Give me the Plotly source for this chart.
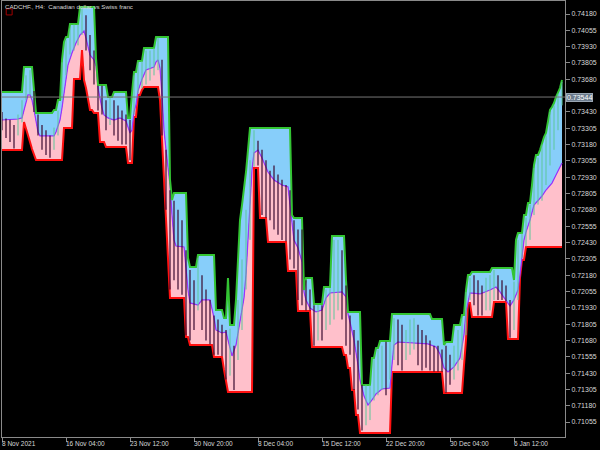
import plotly.graph_objects as go

# ---------------- data (CADCHF H4) ----------------
# Donchian-type channel, given as (price, number_of_bars) runs
upper_steps = [
    (0.73583, 11), (0.73774, 5), (0.73598, 1), (0.73422, 9), (0.73445, 2), (0.73521, 2),
    (0.73828, 1), (0.73966, 1), (0.74004, 2), (0.74103, 5), (0.74234, 8), (0.73843, 1),
    (0.73636, 5), (0.73544, 3), (0.73583, 7), (0.73384, 2), (0.73575, 1), (0.73736, 2),
    (0.73820, 3), (0.73920, 6), (0.74004, 7), (0.72909, 1), (0.72755, 1), (0.72809, 7),
    (0.72311, 1), (0.72243, 4), (0.72334, 9), (0.71913, 4), (0.71852, 2), (0.72158, 1),
    (0.71798, 3), (0.71990, 1), (0.72296, 1), (0.72602, 1), (0.72717, 1), (0.72832, 1),
    (0.72970, 1), (0.73138, 1), (0.73307, 21), (0.72641, 1), (0.72618, 5), (0.72066, 1),
    (0.72158, 4), (0.71959, 5), (0.72089, 4), (0.72480, 7), (0.72143, 1), (0.71898, 7),
    (0.71339, 5), (0.71546, 2), (0.71622, 2), (0.71676, 6), (0.71882, 20), (0.71844, 6),
    (0.71645, 1), (0.71668, 4), (0.71798, 4), (0.71875, 2), (0.72066, 1), (0.72181, 2),
    (0.72204, 10), (0.72235, 11), (0.72143, 1), (0.72449, 1), (0.72503, 3), (0.72641, 2),
    (0.72733, 2), (0.72870, 1), (0.73024, 1), (0.73100, 2), (0.73138, 1), (0.73192, 1),
    (0.73238, 1), (0.73269, 1), (0.73368, 1), (0.73445, 1), (0.73468, 1), (0.73498, 1),
    (0.73544, 1), (0.73583, 1), (0.73613, 1), (0.73674, 1),
]
lower_steps = [
    (0.73138, 11), (0.73353, 1), (0.73307, 1), (0.73253, 1), (0.73200, 1), (0.73146, 1),
    (0.73100, 1), (0.73062, 14), (0.73307, 5), (0.73682, 4), (0.73904, 1), (0.73674, 1),
    (0.73613, 1), (0.73521, 1), (0.73445, 2), (0.73422, 3), (0.73200, 3), (0.73161, 11),
    (0.73039, 3), (0.73391, 2), (0.73560, 2), (0.73598, 1), (0.73621, 8), (0.73521, 1),
    (0.73215, 1), (0.72947, 1), (0.72641, 1), (0.72296, 1), (0.72005, 8), (0.71706, 2),
    (0.71645, 12), (0.71553, 5), (0.71454, 1), (0.71377, 1), (0.71285, 13), (0.73001, 3),
    (0.72618, 4), (0.72434, 10), (0.72212, 5), (0.71905, 7), (0.71630, 16), (0.71569, 2),
    (0.71469, 2), (0.71300, 2), (0.71109, 2), (0.70971, 16), (0.71438, 26), (0.71278, 10),
    (0.71492, 1), (0.71683, 1), (0.71967, 2), (0.71859, 11), (0.71974, 7), (0.71691, 6),
    (0.72158, 1), (0.72296, 2), (0.72396, 19),
]
# middle (smoothed) line: bar index -> price
middle_idx = [0, 8, 10, 11, 12, 13, 14, 15, 16, 17, 18, 19, 26, 27, 28, 29, 30, 31, 32, 33,
              35, 37, 39, 41, 42, 43, 44, 46, 47, 48, 49, 50, 51, 53, 56, 59, 62, 63, 64, 65,
              66, 67, 68, 70, 72, 76, 77, 78, 79, 80, 81, 82, 83, 84, 85, 86, 87, 91, 92, 93,
              94, 98, 100, 104, 106, 107, 110, 112, 113, 115, 117, 119, 121, 122, 123, 124, 125, 126, 128, 130,
              133, 136, 140, 143, 144, 145, 146, 148, 150, 151, 152, 154, 157, 160, 162, 164, 170, 172, 173, 174,
              176, 178, 179, 181, 183, 185, 187, 190, 194, 195, 196, 198, 213, 217, 219, 221, 223, 226, 229, 231,
              232, 234, 239, 244, 247, 249, 252, 254, 256, 258, 259, 260, 261, 262, 264, 266, 270, 272, 275, 277,
              279, 280]
middle_val = [0.73368, 0.73376, 0.73384, 0.73445, 0.73521, 0.73560, 0.73560, 0.73521, 0.73445, 0.73353,
              0.73276, 0.73246, 0.73246, 0.73276, 0.73315, 0.73368, 0.73460, 0.73583, 0.73705, 0.73789,
              0.73881, 0.73958, 0.74019, 0.74050, 0.73996, 0.73927, 0.73866, 0.73828, 0.73782, 0.73613,
              0.73521, 0.73460, 0.73407, 0.73384, 0.73368, 0.73384, 0.73361, 0.73322, 0.73269, 0.73292,
              0.73430, 0.73483, 0.73590, 0.73680, 0.73751, 0.73774, 0.73812, 0.73828, 0.73766, 0.73560,
              0.73292, 0.73138, 0.73024, 0.72870, 0.72641, 0.72449, 0.72403, 0.72396, 0.72235, 0.72066,
              0.71967, 0.71951, 0.71990, 0.71990, 0.71852, 0.71760, 0.71737, 0.71745, 0.71683, 0.71561,
              0.71645, 0.71836, 0.72005, 0.72181, 0.72411, 0.72717, 0.72985, 0.73116, 0.73138, 0.73077,
              0.72970, 0.72909, 0.72870, 0.72855, 0.72717, 0.72564, 0.72449, 0.72388, 0.72281, 0.72051,
              0.71990, 0.71928, 0.71898, 0.71913, 0.72005, 0.72043, 0.72051, 0.72013, 0.71882, 0.71821,
              0.71683, 0.71492, 0.71377, 0.71254, 0.71185, 0.71224, 0.71270, 0.71308, 0.71315, 0.71492,
              0.71645, 0.71668, 0.71653, 0.71630, 0.71576, 0.71469, 0.71438, 0.71477, 0.71546, 0.71722,
              0.71898, 0.72043, 0.72036, 0.72066, 0.72089, 0.72051, 0.71990, 0.71944, 0.71990, 0.72066,
              0.72181, 0.72334, 0.72449, 0.72510, 0.72602, 0.72717, 0.72786, 0.72832, 0.72885, 0.72947,
              0.73008, 0.73039]
# price bars (every other bar): high / low
bar_idx = list(range(0, 281, 2))
bar_high = [0.7343, 0.7338, 0.7337, 0.7333, 0.7341, 0.7352, 0.7371, 0.7375, 0.7359, 0.7341,
            0.7333, 0.7329, 0.7325, 0.7331, 0.7344, 0.7381, 0.7398, 0.7407, 0.7410, 0.7410,
            0.7423, 0.7417, 0.7402, 0.7390, 0.7363, 0.7363, 0.7352, 0.7354, 0.7352, 0.7348,
            0.7344, 0.7341, 0.7337, 0.7371, 0.7381, 0.7382, 0.7390, 0.7390, 0.7392, 0.7400,
            0.7383, 0.7314, 0.7283, 0.7275, 0.7268, 0.7260, 0.7237, 0.7222, 0.7214, 0.7231,
            0.7218, 0.7207, 0.7199, 0.7187, 0.7184, 0.7180, 0.7176, 0.7177, 0.7164, 0.7199,
            0.7230, 0.7268, 0.7306, 0.7329, 0.7321, 0.7314, 0.7306, 0.7298, 0.7302, 0.7295,
            0.7291, 0.7287, 0.7283, 0.7260, 0.7253, 0.7253, 0.7214, 0.7207, 0.7195, 0.7195,
            0.7195, 0.7207, 0.7208, 0.7245, 0.7245, 0.7237, 0.7210, 0.7187, 0.7176, 0.7168,
            0.7134, 0.7134, 0.7134, 0.7154, 0.7161, 0.7164, 0.7167, 0.7167, 0.7185, 0.7184,
            0.7180, 0.7176, 0.7184, 0.7185, 0.7180, 0.7176, 0.7172, 0.7168, 0.7164, 0.7164,
            0.7161, 0.7164, 0.7157, 0.7164, 0.7176, 0.7185, 0.7205, 0.7216, 0.7218, 0.7214,
            0.7210, 0.7216, 0.7218, 0.7222, 0.7218, 0.7214, 0.7210, 0.7199, 0.7213, 0.7245,
            0.7250, 0.7262, 0.7272, 0.7300, 0.7308, 0.7318, 0.7325, 0.7343, 0.7348, 0.7357,
            0.7366]
bar_low = [0.7329, 0.7323, 0.7320, 0.7315, 0.7325, 0.7335, 0.7352, 0.7356, 0.7343, 0.7325,
           0.7314, 0.7310, 0.7308, 0.7314, 0.7325, 0.7352, 0.7371, 0.7387, 0.7390, 0.7394,
           0.7402, 0.7390, 0.7375, 0.7364, 0.7344, 0.7341, 0.7329, 0.7333, 0.7325, 0.7321,
           0.7318, 0.7318, 0.7306, 0.7341, 0.7357, 0.7361, 0.7364, 0.7367, 0.7371, 0.7375,
           0.7325, 0.7268, 0.7207, 0.7214, 0.7207, 0.7203, 0.7172, 0.7168, 0.7176, 0.7191,
           0.7176, 0.7168, 0.7165, 0.7157, 0.7157, 0.7156, 0.7138, 0.7141, 0.7130, 0.7153,
           0.7176, 0.7207, 0.7245, 0.7301, 0.7302, 0.7264, 0.7262, 0.7260, 0.7253, 0.7249,
           0.7245, 0.7244, 0.7230, 0.7223, 0.7199, 0.7195, 0.7191, 0.7191, 0.7164, 0.7168,
           0.7168, 0.7176, 0.7180, 0.7184, 0.7191, 0.7184, 0.7164, 0.7157, 0.7130, 0.7115,
           0.7099, 0.7103, 0.7107, 0.7122, 0.7126, 0.7130, 0.7126, 0.7138, 0.7153, 0.7149,
           0.7145, 0.7153, 0.7157, 0.7161, 0.7149, 0.7145, 0.7147, 0.7145, 0.7144, 0.7144,
           0.7144, 0.7128, 0.7134, 0.7138, 0.7145, 0.7153, 0.7172, 0.7199, 0.7195, 0.7187,
           0.7187, 0.7191, 0.7191, 0.7199, 0.7199, 0.7199, 0.7198, 0.7170, 0.7176, 0.7199,
           0.7231, 0.7240, 0.7245, 0.7264, 0.7272, 0.7275, 0.7287, 0.7302, 0.7314, 0.7329,
           0.7348]
bid_price = 0.73544

y_tick_vals = [0.71055, 0.71180, 0.71305, 0.71430, 0.71555, 0.71680, 0.71805, 0.71930, 0.72055,
               0.72180, 0.72305, 0.72430, 0.72555, 0.72680, 0.72805, 0.72930, 0.73055, 0.73180,
               0.73305, 0.73430, 0.73555, 0.73680, 0.73805, 0.73930, 0.74055, 0.74180]
# the 0.73555 label is covered by the bid-price box in the reference
y_tick_text = ["0.71055", "0.71180", "0.71305", "0.71430", "0.71555", "0.71680", "0.71805",
               "0.71930", "0.72055", "0.72180", "0.72305", "0.72430", "0.72555", "0.72680",
               "0.72805", "0.72930", "0.73055", "0.73180", "0.73305", "0.73430", "",
               "0.73680", "0.73805", "0.73930", "0.74055", "0.74180"]
x_tick_idx = [0, 32, 64, 96, 128, 160, 192, 224, 256]
x_tick_text = ["8 Nov 2021", "16 Nov 04:00", "23 Nov 12:00", "30 Nov 20:00", "8 Dec 04:00",
               "15 Dec 12:00", "22 Dec 20:00", "30 Dec 04:00", "6 Jan 12:00"]
title_text = "CADCHF., H4:  Canadian dollar vs Swiss franc"

# ---------------- build ----------------
upper = [v for v, n in upper_steps for _ in range(n)]
lower = [v for v, n in lower_steps for _ in range(n)]
idx = list(range(len(upper)))

fig = go.Figure()
fig.add_trace(go.Scatter(x=idx, y=lower, mode="lines",
                         line=dict(color="#ff1010", width=2), hoverinfo="skip"))
fig.add_trace(go.Scatter(x=middle_idx, y=middle_val, mode="lines",
                         line=dict(color="#9933ff", width=1.2),
                         fill="tonexty", fillcolor="#ffc0cb", hoverinfo="skip"))
fig.add_trace(go.Scatter(x=idx, y=upper, mode="lines",
                         line=dict(color="#33c433", width=2),
                         fill="tonexty", fillcolor="#87cefa", hoverinfo="skip"))

up_x, up_y, dn_x, dn_y = [], [], [], []
prev_mid = None
for i, h, l in zip(bar_idx, bar_high, bar_low):
    mid = (h + l) / 2
    if prev_mid is not None and mid > prev_mid:
        up_x += [i, i, None]; up_y += [h, l, None]
    else:
        dn_x += [i, i, None]; dn_y += [h, l, None]
    prev_mid = mid
fig.add_trace(go.Scatter(x=up_x, y=up_y, mode="lines",
                         line=dict(color="#5cc79a", width=1), hoverinfo="skip"))
fig.add_trace(go.Scatter(x=dn_x, y=dn_y, mode="lines",
                         line=dict(color="#3a0a30", width=1.2), hoverinfo="skip"))

axis_col = "#8a8a8a"
fig.update_layout(
    width=600, height=450,
    margin=dict(l=2, r=35, t=1, b=13, autoexpand=False),
    paper_bgcolor="black", plot_bgcolor="black",
    showlegend=False,
    font=dict(family="Liberation Sans, Arial, sans-serif", size=7, color="#d8d8d8"),
    xaxis=dict(range=[0, 281.5], showgrid=False, zeroline=False,
               showline=True, linecolor=axis_col, linewidth=1, mirror=True,
               ticks="outside", ticklen=4, tickcolor=axis_col,
               tickvals=x_tick_idx, showticklabels=False),
    yaxis=dict(range=[0.709403, 0.742796], side="right", showgrid=False, zeroline=False,
               showline=True, linecolor=axis_col, linewidth=1, mirror=True,
               ticks="outside", ticklen=4, tickcolor=axis_col,
               tickvals=y_tick_vals, ticktext=y_tick_text,
               tickfont=dict(size=7, color="#d8d8d8")),
)

# bid line and label
fig.add_shape(type="line", xref="paper", x0=0, x1=1, yref="y", y0=bid_price, y1=bid_price,
              line=dict(color="#777777", width=1))
fig.add_annotation(xref="paper", x=1, xanchor="left", xshift=1, yref="y", y=bid_price,
                   text=f"{bid_price:.5f}", showarrow=False, bgcolor="#6b7b8c",
                   bordercolor="#9aa7b4", borderwidth=1, borderpad=0,
                   font=dict(size=7, color="#ffffff"))

# date labels
for i, t in zip(x_tick_idx, x_tick_text):
    fig.add_annotation(xref="x", x=i, xanchor="left", xshift=-2, yref="paper", y=0,
                       yanchor="top", yshift=-1, text=t, showarrow=False,
                       font=dict(size=6.5, color="#d8d8d8"))

# title + small icon
fig.add_annotation(xref="paper", x=0, xanchor="left", xshift=1, yref="paper", y=1,
                   yanchor="top", yshift=0, text=title_text, showarrow=False,
                   font=dict(size=6.2, color="#d8d8d8"))
fig.add_shape(type="rect", xref="paper", yref="paper", x0=0.0075, x1=0.0180,
              y0=0.968, y1=0.982, line=dict(color="#a00000", width=1))

fig.write_html("out.html", config={"displayModeBar": False},
               post_script="document.body.style.margin='0';document.body.style.overflow='hidden';")
